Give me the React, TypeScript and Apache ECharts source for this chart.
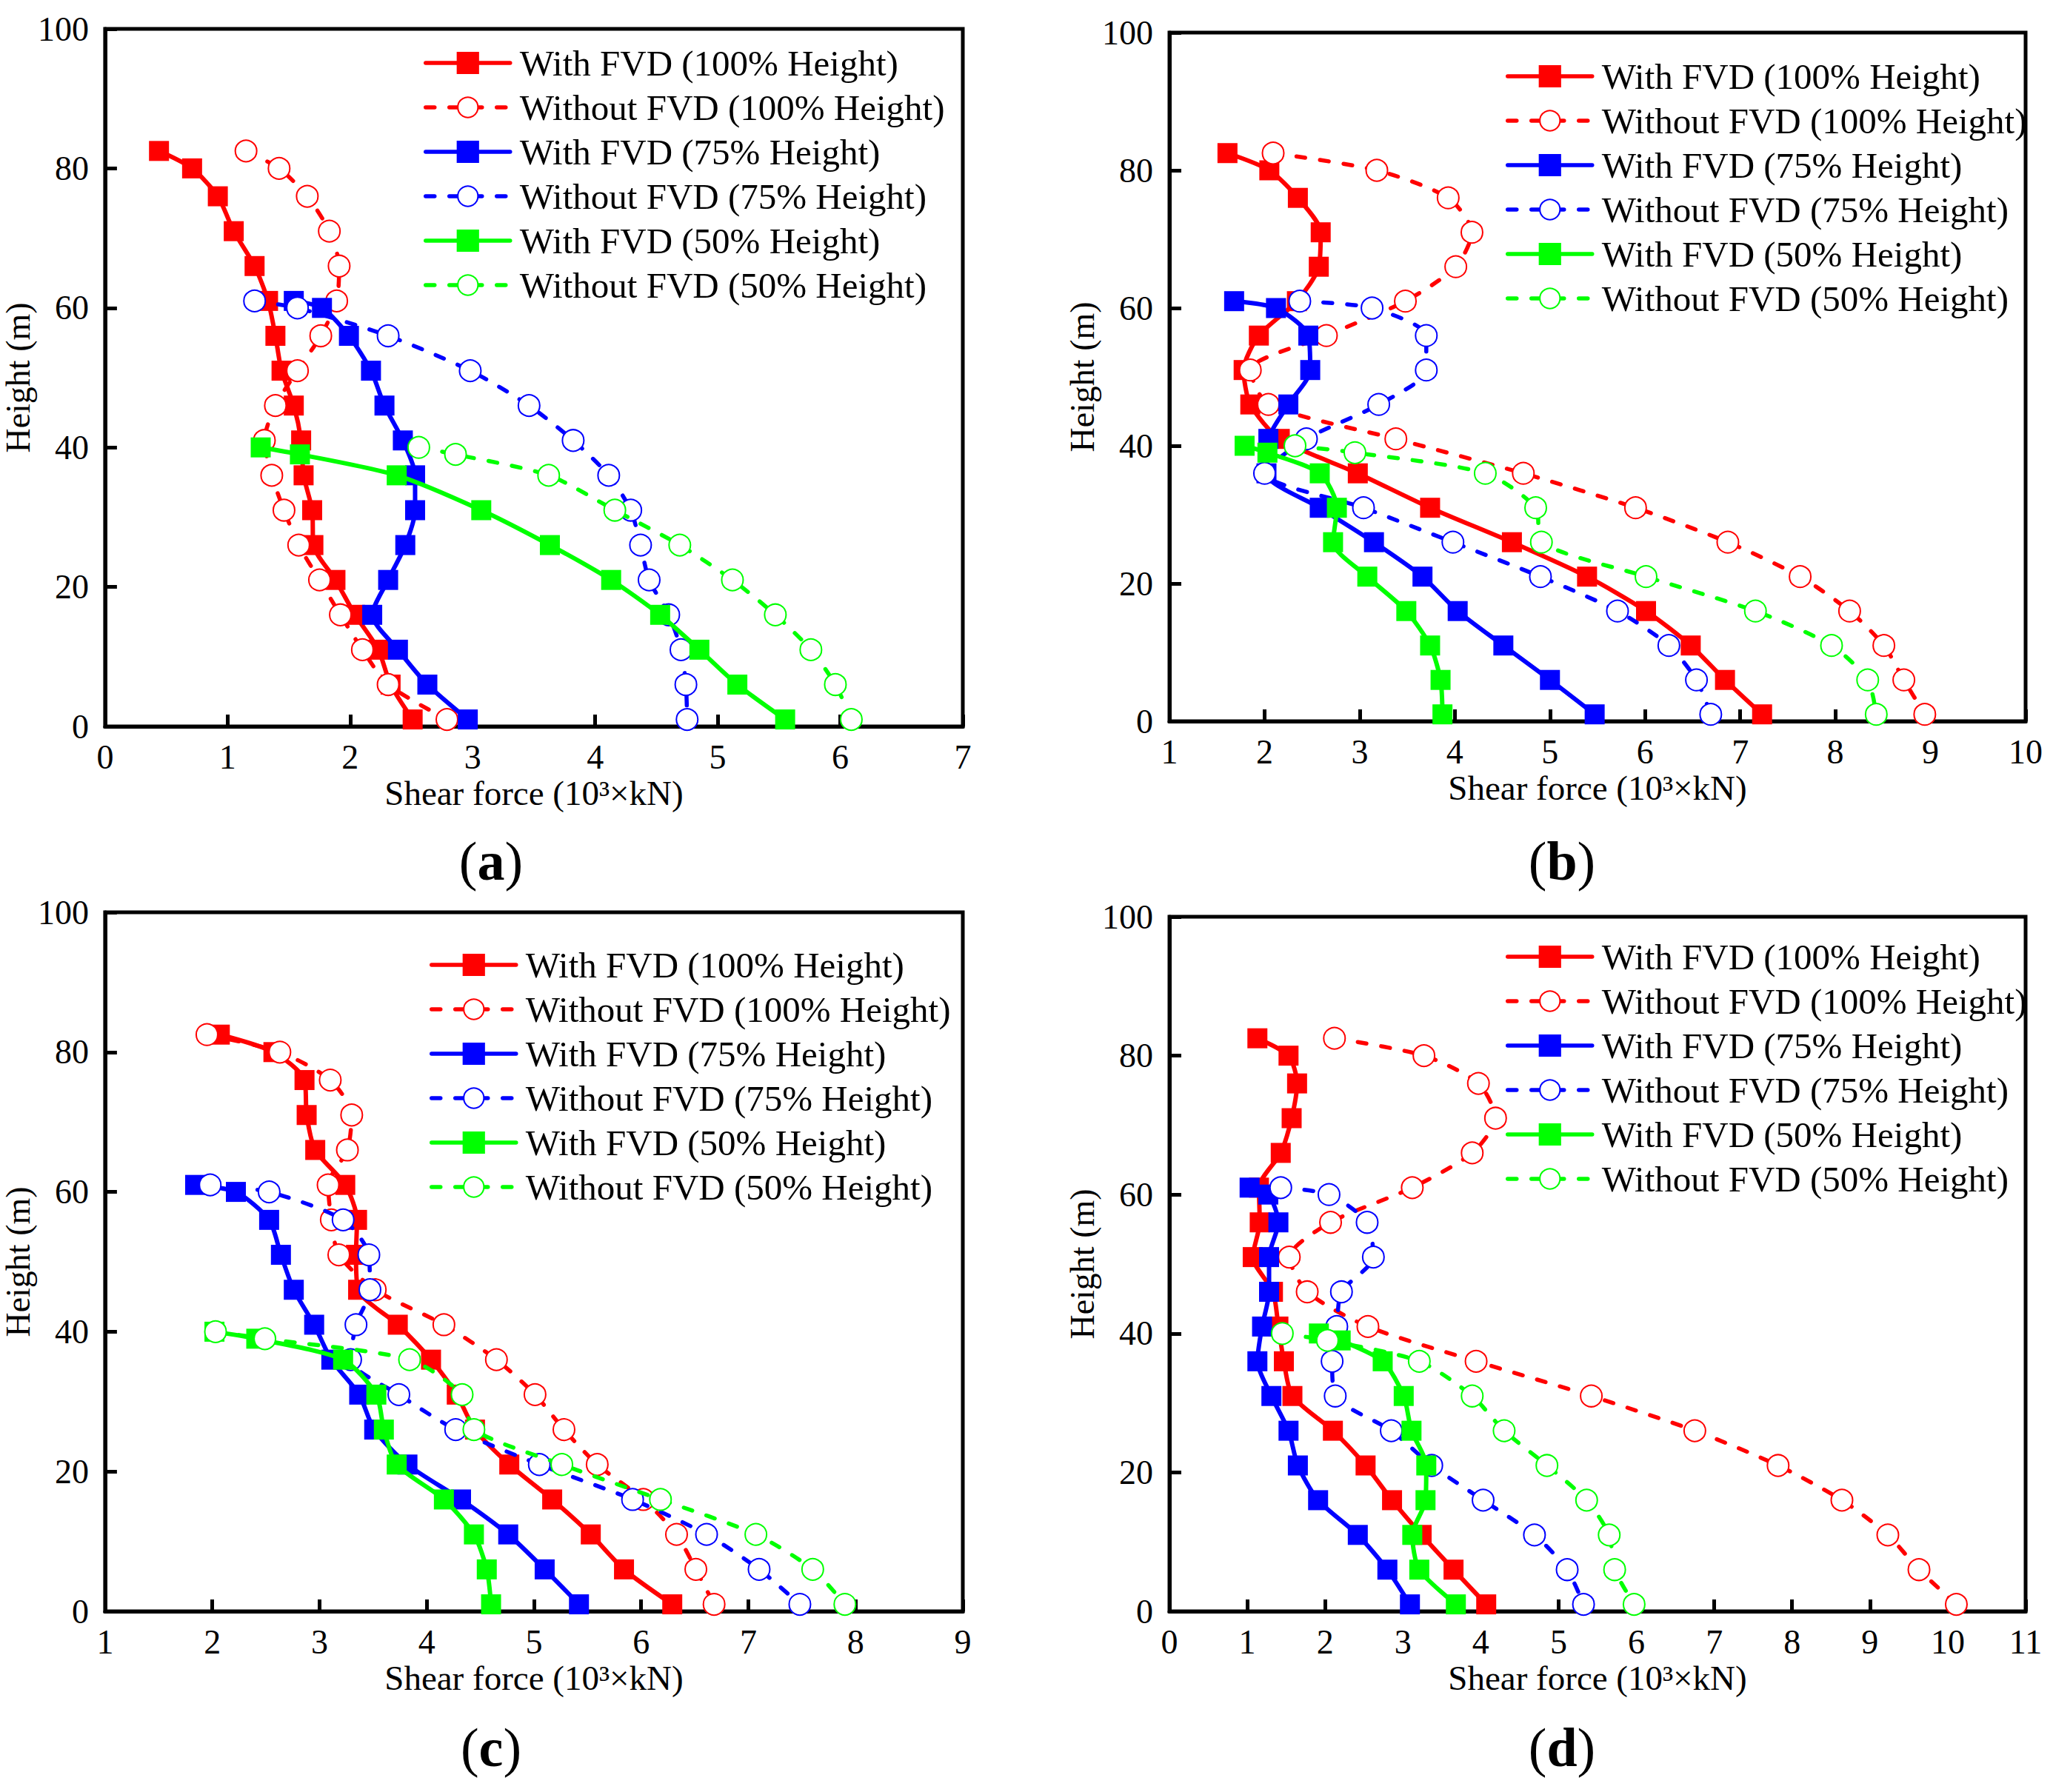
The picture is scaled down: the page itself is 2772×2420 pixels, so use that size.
import React, { useEffect, useRef } from 'react';
import * as echarts from 'echarts';

// heights (m) of the storeys where the shear force is read
const H100 = [82.5, 80, 76, 71, 66, 61, 56, 51, 46, 41, 36, 31, 26, 21, 16, 11, 6, 1];
const H75 = [61, 60, 56, 51, 46, 41, 36, 31, 26, 21, 16, 11, 6, 1];
const H50 = [40, 39, 36, 31, 26, 21, 16, 11, 6, 1];

// (a)
const aWith100 = [0.44, 0.71, 0.92, 1.05, 1.22, 1.33, 1.39, 1.44, 1.54, 1.6, 1.62, 1.69, 1.7, 1.88, 2.04, 2.23, 2.33, 2.51];
const aWithout100 = [1.15, 1.42, 1.65, 1.83, 1.91, 1.89, 1.76, 1.57, 1.39, 1.3, 1.36, 1.46, 1.58, 1.75, 1.92, 2.1, 2.31, 2.79];
const aWith75 = [1.54, 1.77, 1.99, 2.17, 2.28, 2.43, 2.53, 2.53, 2.45, 2.31, 2.18, 2.39, 2.63, 2.96];
const aWithout75 = [1.22, 1.57, 2.31, 2.98, 3.46, 3.82, 4.11, 4.29, 4.37, 4.44, 4.6, 4.7, 4.74, 4.75];
const aWith50 = [1.27, 1.59, 2.38, 3.07, 3.63, 4.13, 4.53, 4.85, 5.16, 5.55];
const aWithout50 = [2.56, 2.86, 3.62, 4.16, 4.69, 5.12, 5.47, 5.76, 5.96, 6.09];

// (b)
const bWith100 = [1.61, 2.05, 2.35, 2.59, 2.57, 2.34, 1.94, 1.78, 1.85, 2.16, 2.98, 3.74, 4.6, 5.39, 6.01, 6.48, 6.84, 7.23];
const bWithout100 = [2.09, 3.18, 3.93, 4.18, 4.01, 3.48, 2.65, 1.85, 2.04, 3.38, 4.72, 5.9, 6.87, 7.63, 8.15, 8.51, 8.72, 8.94];
const bWith75 = [1.68, 2.12, 2.46, 2.48, 2.25, 2.04, 2.02, 2.58, 3.15, 3.66, 4.03, 4.51, 5.0, 5.47];
const bWithout75 = [2.37, 3.13, 3.7, 3.7, 3.2, 2.44, 2.0, 3.04, 3.98, 4.9, 5.71, 6.25, 6.54, 6.69];
const bWith50 = [1.79, 2.03, 2.58, 2.76, 2.72, 3.08, 3.49, 3.74, 3.85, 3.87];
const bWithout50 = [2.32, 2.95, 4.32, 4.85, 4.91, 6.01, 7.16, 7.96, 8.34, 8.43];

// (c)
const cWith100 = [2.07, 2.57, 2.86, 2.88, 2.96, 3.24, 3.35, 3.34, 3.36, 3.73, 4.04, 4.28, 4.45, 4.77, 5.17, 5.53, 5.84, 6.29];
const cWithout100 = [1.95, 2.63, 3.1, 3.3, 3.26, 3.08, 3.11, 3.18, 3.52, 4.16, 4.65, 5.01, 5.28, 5.59, 6.02, 6.33, 6.51, 6.68];
const cWith75 = [1.84, 2.22, 2.53, 2.64, 2.76, 2.95, 3.11, 3.37, 3.51, 3.82, 4.32, 4.76, 5.1, 5.42];
const cWithout75 = [1.98, 2.53, 3.22, 3.46, 3.47, 3.34, 3.29, 3.74, 4.27, 5.05, 5.92, 6.61, 7.1, 7.48];
const cWith50 = [2.02, 2.41, 3.22, 3.53, 3.6, 3.72, 4.16, 4.44, 4.56, 4.6];
const cWithout50 = [2.03, 2.49, 3.84, 4.33, 4.44, 5.26, 6.18, 7.07, 7.6, 7.9];

// (d)
const dWith100 = [1.13, 1.53, 1.64, 1.57, 1.43, 1.15, 1.16, 1.07, 1.33, 1.4, 1.47, 1.58, 2.1, 2.52, 2.86, 3.24, 3.65, 4.07];
const dWithout100 = [2.12, 3.27, 3.97, 4.19, 3.89, 3.12, 2.07, 1.54, 1.77, 2.55, 3.94, 5.42, 6.75, 7.82, 8.64, 9.23, 9.63, 10.11];
const dWith75 = [1.03, 1.27, 1.4, 1.28, 1.28, 1.19, 1.13, 1.31, 1.53, 1.65, 1.91, 2.42, 2.8, 3.09];
const dWithout75 = [1.43, 2.05, 2.54, 2.62, 2.21, 2.15, 2.09, 2.13, 2.85, 3.37, 4.03, 4.69, 5.11, 5.32];
const dWith50 = [1.92, 2.2, 2.74, 3.01, 3.11, 3.3, 3.29, 3.12, 3.21, 3.68];
const dWithout50 = [1.45, 2.03, 3.21, 3.89, 4.3, 4.85, 5.36, 5.65, 5.72, 5.97];

const seriesNames = [
  'With FVD (100% Height)',
  'Without FVD (100% Height)',
  'With FVD (75% Height)',
  'Without FVD (75% Height)',
  'With FVD (50% Height)',
  'Without FVD (50% Height)',
];
const seriesColors = ['#ff0000', '#ff0000', '#0000ff', '#0000ff', '#00ff00', '#00ff00'];
const seriesHeights = [H100, H100, H75, H75, H50, H50];

const panelLabels = ['a', 'b', 'c', 'd'];
const panelData = [
  [aWith100, aWithout100, aWith75, aWithout75, aWith50, aWithout50],
  [bWith100, bWithout100, bWith75, bWithout75, bWith50, bWithout50],
  [cWith100, cWithout100, cWith75, cWithout75, cWith50, cWithout50],
  [dWith100, dWithout100, dWith75, dWithout75, dWith50, dWithout50],
];
const xMin = [0, 1, 1, 0];
const xMax = [7, 10, 9, 11];

const FONT = "'Liberation Serif', 'Times New Roman', serif";

// layout of the four panels (pixels)
const grids = [
  { left: 133, top: 39, width: 1167, height: 942 },
  { left: 1579, top: 44, width: 1156, height: 930 },
  { left: 133, top: 1232, width: 1167, height: 944 },
  { left: 1579, top: 1238, width: 1156, height: 938 },
];
const legendPos = [
  { left: 567, top: 55 },
  { left: 2028, top: 73 },
  { left: 575, top: 1273 },
  { left: 2028, top: 1262 },
];
const labelPos = [
  { x: 663, y: 1163 },
  { x: 2109, y: 1163 },
  { x: 663, y: 2360 },
  { x: 2109, y: 2360 },
];

const App: React.FC = () => {
  const chartRef = useRef<HTMLDivElement>(null);

  useEffect(() => {
    document.body.style.margin = '0';
    if (!chartRef.current) return;
    const chart = echarts.init(chartRef.current, null, { renderer: 'svg' });

    const series: any[] = [];
    panelData.forEach((lists, p) => {
      lists.forEach((xs, i) => {
        const dashed = i % 2 === 1;
        series.push({
          name: seriesNames[i],
          type: 'line',
          xAxisIndex: p,
          yAxisIndex: p,
          data: xs.map((x, k) => [x, seriesHeights[i][k]]),
          smooth: 0.25,
          symbol: dashed ? 'emptyCircle' : 'rect',
          symbolSize: dashed ? 29 : 27,
          lineStyle: {
            color: seriesColors[i],
            width: dashed ? 5.5 : 6,
            type: dashed ? [12, 20] : 'solid',
            cap: 'round',
          },
          itemStyle: {
            color: seriesColors[i],
            borderColor: seriesColors[i],
            borderWidth: dashed ? 3 : 0,
          },
          z: 2 + i,
        });
      });
    });

    const option = {
      animation: false,
      backgroundColor: '#fff',
      grid: grids.map((g) => ({
        ...g,
        show: true,
        borderColor: '#000',
        borderWidth: 5,
        containLabel: false,
      })),
      xAxis: grids.map((_, p) => ({
        type: 'value',
        gridIndex: p,
        min: xMin[p],
        max: xMax[p],
        interval: 1,
        name: 'Shear force (10³×kN)',
        nameLocation: 'middle',
        nameGap: 66,
        nameTextStyle: { fontFamily: FONT, fontSize: 47, color: '#000' },
        axisLine: { show: true, lineStyle: { color: '#000', width: 5 } },
        axisTick: { show: true, inside: true, length: 16, lineStyle: { color: '#000', width: 5 } },
        axisLabel: { fontFamily: FONT, fontSize: 46, color: '#000', margin: 18 },
        splitLine: { show: false },
      })),
      yAxis: grids.map((_, p) => ({
        type: 'value',
        gridIndex: p,
        min: 0,
        max: 100,
        interval: 20,
        name: 'Height (m)',
        nameLocation: 'middle',
        nameGap: 69,
        nameTextStyle: { fontFamily: FONT, fontSize: 46, color: '#000' },
        axisLine: { show: true, lineStyle: { color: '#000', width: 5 } },
        axisTick: { show: true, inside: true, length: 16, lineStyle: { color: '#000', width: 5 } },
        axisLabel: { fontFamily: FONT, fontSize: 46, color: '#000', margin: 22 },
        splitLine: { show: false },
      })),
      legend: legendPos.map((pos) => ({
        ...pos,
        orient: 'vertical',
        data: seriesNames,
        itemWidth: 114,
        itemHeight: 34,
        itemGap: 10,
        selectedMode: false,
        lineStyle: { width: 5.5 },
        itemStyle: { borderWidth: 3 },
        textStyle: { fontFamily: FONT, fontSize: 49, lineHeight: 50, color: '#000', padding: [0, 0, 0, 8] },
      })),
      graphic: panelLabels.map((l, p) => ({
        type: 'text',
        x: labelPos[p].x,
        y: labelPos[p].y,
        style: {
          text: `{p|(}{b|${l}}{p|)}`,
          align: 'center',
          verticalAlign: 'middle',
          rich: {
            p: { fontFamily: FONT, fontSize: 74, fill: '#000' },
            b: { fontFamily: FONT, fontSize: 74, fontWeight: 'bold', fill: '#000' },
          },
        },
      })),
      series,
    };

    chart.setOption(option);
    return () => {
      chart.dispose();
    };
  }, []);

  return <div ref={chartRef} style={{ width: '2772px', height: '2420px' }} />;
};

export default App;
